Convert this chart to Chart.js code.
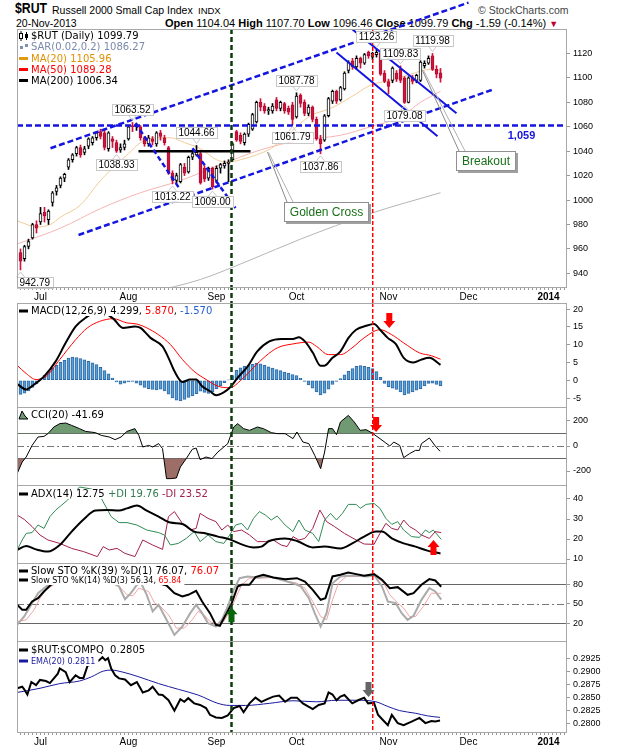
<!DOCTYPE html>
<html>
<head>
<meta charset="utf-8">
<script src="https://cdn.jsdelivr.net/npm/chart.js@4.4.0/dist/chart.umd.min.js"></script>
<style>
    body { margin: 0; width: 620px; height: 750px; background: #fff; position: relative; overflow: hidden; font-family: "Liberation Sans", Arial, sans-serif; }
    .hd { position: absolute; white-space: nowrap; color: #000; line-height: 12px; }
    canvas { position: absolute; left: 0; }
</style>
</head>
<body>
<div class="hd" style="left:15px;top:2px;font-size:15px;font-weight:bold;transform:scaleX(.82);transform-origin:0 0;">$RUT</div>
<div class="hd" style="left:52px;top:4px;font-size:10.5px;">Russell 2000 Small Cap Index</div>
<div class="hd" style="left:198px;top:5px;font-size:9.5px;">INDX</div>
<div class="hd" style="left:478px;top:4px;font-size:10.5px;color:#444;">&copy; StockCharts.com</div>
<div class="hd" style="left:16px;top:17px;font-size:10.5px;">20-Nov-2013</div>
<div class="hd" style="left:165px;top:17px;font-size:11px;"><b>Open</b> 1104.04 <b>High</b> 1107.70 <b>Low</b> 1096.46 <b>Close</b> 1099.79 <b>Chg</b> -1.59 (-0.14%) <span style="color:#c00030;font-size:9px;">&#9660;</span></div>

<canvas id="cMain" width="620" height="303" style="top:0px"></canvas>
<canvas id="cMacd" width="620" height="105" style="top:303px"></canvas>
<canvas id="cCci" width="620" height="78" style="top:408px"></canvas>
<canvas id="cAdx" width="620" height="78" style="top:486px"></canvas>
<canvas id="cSto" width="620" height="78" style="top:564px"></canvas>
<canvas id="cRatio" width="620" height="108" style="top:642px"></canvas>

<script>
// ---- axis / calendar (trading-day index, 0 = 24-Jun-2013) ----
const xMin = -0.875, xMax = 136.625;
const monthDays = [5, 27, 49, 69, 92, 112, 132];
const monthNames = ['Jul', 'Aug', 'Sep', 'Oct', 'Nov', 'Dec', '2014'];
const greenDay = 52.75;
const redDay = 88;

// ---- $RUT daily candles ----
const opens = [957, 952, 962, 969, 980, 982, 990, 984, 998, 1007,
    1012, 1018, 1027, 1033, 1038, 1043, 1039, 1044, 1047, 1051,
    1056, 1055, 1042, 1050, 1047, 1041, 1043, 1050, 1061, 1060,
    1060, 1051, 1046, 1050, 1046, 1055, 1051, 1043, 1022, 1016,
    1015, 1027, 1023, 1035, 1037, 1038, 1026, 1018, 1026, 1016,
    1026, 1028, 1030, 1033, 1056, 1053, 1047, 1054, 1058, 1064,
    1080, 1077, 1073, 1073, 1082, 1075, 1079, 1075, 1078, 1068,
    1086, 1080, 1071, 1076, 1066, 1050, 1049, 1069, 1081, 1089,
    1082, 1091, 1106, 1114, 1109, 1116, 1112, 1121, 1117, 1119,
    1120, 1104, 1097, 1098, 1104, 1107, 1100, 1080, 1100, 1098,
    1098, 1110, 1112, 1118, 1107, 1104.04];
const highs = [960, 963, 968, 981, 983, 994, 994, 992, 1007, 1012,
    1019, 1022, 1034, 1038, 1044, 1045, 1044, 1051, 1052, 1056,
    1058, 1057, 1056, 1052, 1049, 1046, 1049, 1061, 1063.52, 1063,
    1061, 1052, 1053, 1052, 1056, 1057, 1053, 1044, 1024, 1022,
    1030, 1030, 1036, 1039, 1044.66, 1039, 1028, 1027, 1027, 1028,
    1030, 1032, 1033, 1047, 1057, 1055, 1055, 1063, 1071, 1081,
    1083, 1079, 1076, 1079, 1084, 1081, 1080, 1077, 1080, 1087.78,
    1087, 1082, 1078, 1077, 1068, 1053, 1070, 1084, 1090, 1090,
    1093, 1105, 1114, 1116, 1118, 1117, 1120, 1122, 1121, 1123.26,
    1122, 1106, 1099, 1109, 1106, 1109.83, 1101, 1101, 1102, 1103,
    1114, 1114, 1118, 1119.98, 1110, 1107.70];
const lows = [942.79, 950, 960, 968, 973, 980, 982, 980, 995, 1004,
    1010, 1015, 1025, 1031, 1036, 1035, 1037, 1042, 1045, 1049,
    1050, 1041, 1040, 1043, 1038.93, 1039, 1041, 1049, 1056, 1057,
    1049, 1044, 1044, 1045, 1044, 1049, 1045, 1021, 1013.22, 1014,
    1014, 1020, 1022, 1033, 1036, 1013, 1015, 1016, 1009.00, 1014,
    1022, 1026, 1015, 1032, 1048, 1046, 1045, 1052, 1057, 1063,
    1073, 1071, 1070, 1071, 1073, 1073, 1071, 1070, 1061.79, 1067,
    1076, 1069, 1069, 1064, 1049, 1037.86, 1048, 1068, 1079, 1079,
    1081, 1090, 1104, 1107, 1107, 1108, 1111, 1116, 1115, 1117,
    1102, 1096, 1087, 1096, 1097, 1096, 1079.08, 1079.5, 1095, 1096,
    1097, 1108, 1111, 1106, 1100, 1096.46];
const closes = [950, 962, 966, 980, 977, 989, 987, 991, 1006, 1010,
    1018, 1021, 1033, 1037, 1043, 1037, 1042, 1050, 1051, 1055,
    1052, 1043, 1055, 1048, 1040, 1043, 1046, 1060, 1060, 1062,
    1051, 1046, 1051, 1048, 1055, 1052, 1047, 1022, 1016, 1020,
    1029, 1022, 1035, 1038, 1039, 1014, 1017, 1026, 1011, 1026,
    1029, 1030, 1031, 1046, 1049, 1048, 1054, 1062, 1070, 1080,
    1076, 1073, 1074, 1077, 1075, 1080, 1073, 1072, 1066, 1085,
    1079, 1071, 1076, 1066, 1050, 1046, 1069, 1083, 1089, 1081,
    1092, 1104, 1113, 1109, 1116, 1112, 1119, 1118, 1120, 1121,
    1103, 1097, 1093, 1108, 1099, 1098, 1080, 1100, 1097, 1102,
    1113, 1112, 1116, 1107, 1103, 1099.79];

// moving averages [day, value]
const ma20 = [[-0.9, 983], [0, 982], [4, 978], [7.5, 980], [10, 986], [15, 996], [20, 1016], [24, 1029], [27, 1038],
    [30, 1047], [34, 1051], [37.5, 1051], [41, 1047], [45, 1042], [49, 1033], [52, 1031], [55, 1033], [59, 1037],
    [62.5, 1042], [66, 1051], [69, 1060], [72.5, 1069], [77.5, 1075], [82.5, 1084], [87.5, 1094], [92.5, 1098],
    [97.5, 1103], [102.5, 1107], [105, 1106]];
const ma50 = [[-0.9, 964], [0, 965], [10, 977], [20, 993], [30, 1006], [40, 1016], [50, 1029], [60, 1041], [70, 1049],
    [80, 1053], [87.5, 1060], [95, 1068], [100, 1080], [105, 1089]];
const ma200 = [[32, 924], [45, 935], [57.5, 951], [70, 968], [87.5, 989], [105, 1006]];

// drawn trend lines [day, price]
const channelTop = [[7.5, 1042.4], [112, 1161.6]];
const channelBottom = [[14.5, 971.4], [118.25, 1090.6]];
const supportLine = [[xMin, 1061], [xMax, 1061]];
const augFall1 = [[28.75, 1062.9], [39.5, 1010.6]];
const augFall2 = [[43, 1042.4], [53.75, 993.5]];
const neckline = [[29.5, 1040], [57.5, 1040]];
const octTop = [[83, 1139.6], [109, 1071]];
const octBottom = [[79, 1120.8], [104.25, 1052.2]];

// price notes [day, price]
const priceNotes = [[0, 942.79], [24, 1038.93], [28, 1063.52], [38, 1013.22], [44, 1044.66], [48, 1009.00],
    [68, 1061.79], [69, 1087.78], [75, 1037.86], [89, 1123.26], [95, 1109.83], [96, 1079.08], [103, 1119.98]];
const supportNote = [125.25, 1052.7, '1,059'];
const callouts = [
    { text: 'Golden Cross', at: [76.4, 989.8], tip: [61.75, 1039.2] },
    { text: 'Breakout', at: [116.25, 1031.8], tip: [100.5, 1106.1] }
];

// ---- MACD(12,26,9) ----
const macdLine = [[-0.85, -1.0], [1.4, -2.6], [3.4, -1.2], [5.9, 1.1], [8.8, 5.3], [11.3, 10.5], [13.8, 15.1],
    [16.2, 17.5], [19.7, 19.5], [23.2, 17.3], [25.6, 14.7], [28.6, 15.1], [30, 14.7], [32.5, 11.9], [35.5, 9.5],
    [37, 6.3], [38.5, 2.5], [40.5, -0.5], [42.4, 0.2], [43.9, 0.2], [45.4, -1.7], [47.4, -3.1], [48.9, -4.2],
    [50.8, -3.4], [52.3, -2.1], [54.3, 0.7], [56.8, 3.9], [59.2, 8.1], [62.2, 10.9], [65.2, 11.6], [68.1, 11.6],
    [69.6, 12.1], [71.1, 10.9], [73.1, 7.7], [75, 4.1], [76, 4.1], [78, 6.3], [80, 8.1], [82, 11.9], [83.9, 14.2],
    [86.4, 15.3], [88.4, 15.8], [89.9, 14.2], [91.8, 11.9], [93.8, 10.2], [95.8, 6.3], [98.3, 5.0], [100.2, 5.8],
    [102.2, 6.3], [105, 4.3]];
const macdSignal = [[-0.85, 4.2], [1.4, 1.9], [3.9, 0.2], [6.4, 1.1], [9.8, 5.8], [13.8, 11.4], [16.7, 14.7],
    [19.7, 16.5], [23.2, 17.3], [26.6, 16.1], [29.1, 15.8], [31.6, 14.7], [34.5, 12.8], [37.5, 10.0], [40.5, 5.8],
    [43.4, 2.5], [46.4, 0.2], [49.4, -1.7], [52.3, -2.1], [55.3, 0.2], [58.2, 3.5], [61.2, 6.7], [64.2, 9.1],
    [68.1, 10.2], [72.1, 10.7], [74, 9.5], [77, 7.2], [80, 7.2], [82.9, 9.1], [85.9, 11.9], [89.9, 14.2],
    [92.8, 12.8], [95.8, 10.5], [99.7, 7.7], [102.7, 6.9], [105, 5.9]];
const macdHist = [-4.0, -3.6, -3.0, -2.0, -1.0, 0.4, 1.4, 2.4, 3.4, 4.2,
    5.0, 5.6, 6.2, 6.5, 6.4, 6.1, 5.7, 5.3, 4.9, 4.4,
    3.6, 2.7, 1.8, 0.6, -0.5, -1.1, -0.8, -0.5, -0.3, -0.8,
    -1.4, -2.0, -2.4, -2.6, -2.7, -2.5, -3.0, -3.9, -5.0, -5.6,
    -5.8, -5.4, -4.8, -4.4, -3.8, -3.1, -3.4, -3.7, -3.2, -2.4,
    -1.5, -0.7, 0.1, 1.3, 2.8, 3.5, 3.9, 4.2, 4.5, 4.8,
    4.6, 4.2, 3.8, 3.4, 3.0, 2.7, 2.3, 2.0, 1.6, 1.3,
    0.6, -0.3, -1.3, -2.2, -3.3, -4.1, -3.6, -2.5, -1.2, -0.3,
    0.5, 1.5, 2.5, 3.3, 3.9, 4.1, 3.9, 3.6, 3.3, 2.4,
    0.8, -0.9, -1.8, -2.2, -2.6, -3.3, -4.1, -3.7, -3.3, -2.8,
    -2.4, -1.6, -0.9, -0.8, -1.2, -1.57];

// ---- CCI(20) ----
const cci = [[-0.85, -221], [0.43, -128], [1.42, -88], [2.9, 5], [4.39, 72], [5.87, 77], [6.86, 99], [8.34, 152],
    [9.82, 179], [11.3, 184], [12.79, 165], [14.76, 139], [16.25, 117], [18.72, 107], [20.2, 85], [22.17, 72],
    [23.66, 51], [25.14, 72], [26.62, 117], [28.6, 139], [29.58, 85], [30.57, -8], [32.05, 5], [33.04, -8],
    [34.53, 19], [35.51, -21], [36.5, -261], [37.49, -261], [38.97, -256], [39.96, -168], [41.44, -101],
    [42.92, -27], [43.91, -16], [44.9, -109], [46.38, -88], [47.87, -101], [49.35, -48], [50.83, -8], [51.82, 19],
    [53.3, 152], [54.29, 179], [55.77, 139], [57.25, 125], [59.23, 152], [60.71, 139], [62.69, 107], [64.17, 99],
    [66.15, 99], [68.12, 59], [69.11, 112], [70.59, 32], [72.08, 19], [73.56, -75], [75.04, -181], [76.03, -48],
    [77.02, 139], [78, 139], [79, 91], [79.98, 192], [81.96, 245], [83.44, 192], [84.92, 125], [86.4, 131],
    [87.89, 104], [89.86, 59], [91.34, 24], [92.33, 0], [93.32, 32], [94.8, 5], [95.79, -93], [97.27, -61],
    [98.75, -35], [99.74, -35], [100.24, 19], [102.21, 64], [103.7, 0], [104.88, -42]];
const cciLevels = [100, 0, -100];

// ---- ADX(14) ----
const adx = [[-0.85, 14.5], [1.42, 16.5], [3.89, 14.8], [6.86, 13.7], [9.82, 17], [12.79, 23.7], [15.75, 29.8],
    [18.72, 34.2], [21.68, 34.5], [24.64, 34.2], [26.62, 35.3], [29.09, 36.7], [31.56, 34.2], [34.53, 31.2],
    [37.49, 28.2], [40.45, 27.5], [43.42, 23.7], [46.38, 22.8], [49.35, 21.2], [52.31, 19.8], [55.28, 17.3],
    [58.24, 15.8], [60.22, 16.2], [62.19, 19], [66.15, 20.3], [69.11, 19], [73.06, 15.8], [76.03, 16.2],
    [79.98, 15.3], [82.94, 17.8], [85.91, 21.2], [88.87, 23.7], [90.36, 23.7], [92.83, 20.3], [95.79, 17.8],
    [98.75, 16.2], [101.72, 14.2], [105, 12.75]];
const plusDI = [[-0.85, 14.5], [0.43, 19.5], [1.42, 22.8], [2.9, 23.2], [4.39, 27], [5.87, 25.3], [7.35, 31.2],
    [8.83, 34.5], [10.32, 37], [11.8, 39.5], [14.76, 46], [17.73, 45], [20.2, 40.3], [22.67, 31.2], [24.64, 28.2],
    [26.62, 28.2], [29.09, 27], [31.56, 24.5], [34.53, 23.2], [36.01, 22], [37.49, 17], [39.47, 17.8], [41.44, 20.3],
    [43.42, 23.7], [44.9, 18.7], [46.88, 22], [48.85, 18.7], [50.83, 17.8], [52.31, 22], [53.79, 27], [55.28, 27.8],
    [56.76, 24.5], [58.24, 30.3], [59.72, 33.7], [61.21, 32], [62.69, 29.5], [64.17, 31.5], [66.15, 27],
    [68.12, 23.7], [69.6, 29.5], [71.09, 24.5], [73.06, 22.8], [74.55, 18.7], [76.03, 29.5], [77.51, 32.8],
    [79, 29.5], [80.47, 32.8], [81.96, 37.3], [83.93, 37.3], [84.92, 35.3], [86.4, 37.3], [88.38, 37.8],
    [89.86, 35.3], [91.34, 30.3], [92.83, 27.3], [94.31, 28.7], [95.79, 24.5], [97.77, 21.2], [99.74, 20.8],
    [101.23, 24.5], [102.21, 23.2], [103.2, 24.5], [105.18, 19.8]];
const minusDI = [[-0.85, 32], [0.93, 29.8], [2.9, 26.2], [4.88, 22], [6.86, 19.5], [9.82, 17.8], [12.79, 15.3],
    [15.75, 13.7], [19.21, 11.2], [20.69, 16.2], [22.17, 14.5], [24.15, 15.3], [26.13, 12.8], [28.6, 11.2],
    [30.57, 19.5], [33.04, 17], [35.51, 14.8], [36.99, 31.2], [38.48, 33.7], [40.45, 27.8], [42.43, 24.5],
    [43.91, 25.3], [44.9, 32.8], [46.88, 30.3], [48.85, 28.7], [50.34, 24.5], [51.82, 27], [53.3, 23.7],
    [55.28, 24.5], [57.25, 22], [59.23, 18.7], [61.21, 18.7], [63.18, 19.5], [65.16, 17], [66.64, 16.2],
    [68.12, 21.2], [69.6, 19.5], [71.09, 20.3], [73.06, 25.3], [74.84, 34.5], [76.52, 28.7], [78.5, 26.2],
    [80.97, 22.8], [83.93, 19.5], [85.91, 17.5], [88.38, 17.3], [89.86, 22.8], [91.34, 27.8], [92.83, 25.3],
    [94.31, 24.5], [95.79, 29.5], [97.27, 26.2], [98.75, 24.5], [100.24, 22], [102.21, 20.3], [103.7, 23.7],
    [105.18, 23.2]];

// ---- Slow Stochastics ----
const stoK39 = [[-0.85, 48.2], [0.43, 40.5], [1.42, 40.5], [2.9, 53.3], [4.39, 58.5], [5.87, 68.7], [7.35, 77.4],
    [8.8, 85], [11.8, 92], [16.7, 95], [22.7, 92], [27.6, 88], [32.5, 85], [36.5, 78], [38.48, 66.1], [40.45, 61],
    [41.94, 63.6], [43.91, 69.7], [45.4, 53.3], [47.37, 35.4], [48.85, 17.4], [49.84, 15.9], [51.32, 32.8],
    [52.81, 50.8], [54.29, 76.4], [55.28, 79], [57.25, 79], [58.74, 90.8], [60.71, 94.4], [63.18, 90.3],
    [66.15, 87.7], [69.11, 89.2], [71.09, 84.1], [73.06, 71.3], [75.04, 55.9], [76.23, 58.5], [78, 91.8],
    [79.98, 94.4], [81.96, 98], [83.93, 95.4], [85.91, 92.8], [88.38, 95.4], [90.36, 86.7], [92.33, 73.8],
    [94.31, 75.4], [96.78, 63.6], [98.26, 66.1], [100.24, 79], [102.21, 87.7], [103.7, 85.6], [105.18, 76.1]];
const stoK14 = [[-0.85, 17.4], [0.93, 30.2], [2.9, 50.8], [4.39, 66.1], [5.87, 73.8], [8.8, 88], [14.8, 92],
    [20.7, 90], [24.64, 76.4], [26.13, 56.9], [27.6, 66.1], [29.09, 79], [30.1, 82], [31.56, 63.6], [33.04, 38],
    [34.53, 48.2], [36.5, 25.1], [38.48, 2], [40.45, 14.8], [42.43, 35.4], [43.91, 48.2], [45.4, 35.4],
    [46.88, 20], [48.85, 14.8], [50.34, 25.1], [51.82, 45.6], [53.3, 71.3], [54.78, 89.2], [56.76, 91.8],
    [59.23, 90.3], [62.19, 91.8], [65.16, 86.7], [68.12, 81.5], [70.1, 76.4], [72.08, 58.5], [73.56, 35.4],
    [75.04, 14.8], [76.52, 35.4], [78, 81.5], [79.98, 91.8], [81.96, 92.8], [83.93, 92.8], [86.9, 91.8],
    [88.38, 94.4], [90.36, 76.4], [91.84, 53.3], [93.81, 50.8], [95.3, 35.4], [96.78, 25.1], [98.26, 31.3],
    [100.24, 55.9], [102.21, 73.8], [103.7, 68.7], [105.18, 56.3]];
const stoD3 = [[-0.85, 22.5], [1.42, 25.1], [3.4, 40.5], [4.88, 58.5], [6.36, 71.3], [9.8, 85], [16.7, 92],
    [22.7, 88], [25.14, 73.8], [26.62, 63.6], [28.1, 62], [29.58, 73.8], [32.05, 68.7], [33.54, 50.8],
    [35.02, 45.6], [37, 32.8], [38.97, 12.3], [40.95, 12.3], [42.92, 25.1], [44.41, 38], [45.89, 32.8],
    [47.37, 22.5], [49.35, 17.4], [50.83, 22.5], [52.31, 38], [53.79, 58.5], [55.28, 79], [57.25, 89.2],
    [60.22, 89.2], [63.18, 90.3], [66.15, 85.1], [69.11, 81.5], [71.09, 73.8], [73.06, 53.3], [75.04, 30.2],
    [76.52, 25.1], [78, 55.9], [79.49, 81.5], [81.46, 91.8], [83.93, 91.8], [86.9, 91.8], [88.87, 91.8],
    [90.85, 81.5], [92.33, 63.6], [94.31, 50.8], [95.79, 43.1], [97.27, 30.2], [98.75, 30.2], [100.73, 45.6],
    [102.71, 66.1], [105.18, 65.8]];
const stoLevels = [80, 50, 20];

// ---- $RUT:$COMPQ ratio ----
const ratio = [[-0.85, 0.2867], [0.43, 0.2870], [0.93, 0.2865], [1.72, 0.2855], [2.71, 0.2879], [3.89, 0.2873],
    [4.88, 0.2883], [6.36, 0.2881], [7.35, 0.2877], [9.33, 0.2895], [9.82, 0.2905], [11.3, 0.2898],
    [12.29, 0.2879], [13.77, 0.2892], [14.76, 0.2887], [15.75, 0.2887], [16.74, 0.2910], [18.2, 0.2915],
    [19.7, 0.2921], [20.49, 0.2927], [21.19, 0.2921], [21.88, 0.2925], [22.67, 0.2905], [23.66, 0.2892],
    [24.64, 0.2886], [26.13, 0.2884], [27.61, 0.2873], [29.09, 0.2879], [30.57, 0.2859], [32.05, 0.2863],
    [33.04, 0.2870], [34.53, 0.2855], [35.51, 0.2854], [37, 0.2844], [38.48, 0.2824], [39.96, 0.2846],
    [40.95, 0.2841], [41.94, 0.2848], [43.42, 0.2838], [44.9, 0.2835], [46.38, 0.2829], [47.37, 0.2816],
    [48.85, 0.2811], [50.34, 0.2810], [51.82, 0.2815], [53.3, 0.2829], [54.78, 0.2833], [55.77, 0.2821],
    [57.25, 0.2838], [58.74, 0.2849], [60.22, 0.2841], [61.7, 0.2846], [63.18, 0.2851], [64.66, 0.2853],
    [66.15, 0.2841], [67.63, 0.2849], [69.11, 0.2849], [70.59, 0.2838], [73.06, 0.2827], [74.55, 0.2835],
    [76.03, 0.2838], [77.02, 0.2859], [78, 0.2855], [79, 0.2844], [79.98, 0.2851], [80.97, 0.2854],
    [82.94, 0.2838], [84.43, 0.2844], [85.91, 0.2849], [86.9, 0.2838], [88.38, 0.2839], [89.37, 0.2816],
    [90.36, 0.2808], [91.84, 0.2796], [92.83, 0.2816], [94.31, 0.2800], [95.79, 0.2796], [97.77, 0.2803],
    [99.74, 0.2810], [101.23, 0.2800], [102.71, 0.2804], [103.7, 0.2803], [104.88, 0.2805]];
const ratioEma = [[-0.85, 0.2859], [4.88, 0.2867], [9.82, 0.2876], [14.76, 0.2881], [17.73, 0.2889],
    [20.69, 0.2900], [22.67, 0.2902], [25.63, 0.2898], [29.58, 0.2889], [34.53, 0.2876], [39.47, 0.2865],
    [44.41, 0.2854], [49.35, 0.2838], [52.31, 0.2834], [56.26, 0.2834], [62.19, 0.2838], [68.12, 0.2843],
    [74.05, 0.2841], [79, 0.2844], [83.93, 0.2844], [88.87, 0.2841], [91.84, 0.2832], [94.8, 0.2824],
    [98.75, 0.2819], [101.72, 0.2814], [104.88, 0.2811]];

// ---- colours ----
const RED = '#d2143c';
const BLUE = '#1515e0';
const LEG_FONT = '10px "DejaVu Sans"';
const SMALL_FONT = '8px "DejaVu Sans"';
const TICK_FAMILY = '"Liberation Sans", Arial, sans-serif';

const pts = arr => arr.map(p => ({ x: p[0], y: p[1] }));
const xp = (c, v) => c.scales.x.getPixelForValue(v);
const yp = (c, v) => c.scales.y.getPixelForValue(v);

function drawArrow(ctx, x, y, dir, color) {
    const d = dir === 'down' ? -1 : 1;
    ctx.fillStyle = color;
    ctx.beginPath();
    ctx.moveTo(x, y);
    ctx.lineTo(x + 6, y + d * 7);
    ctx.lineTo(x + 3, y + d * 7);
    ctx.lineTo(x + 3, y + d * 15);
    ctx.lineTo(x - 3, y + d * 15);
    ctx.lineTo(x - 3, y + d * 7);
    ctx.lineTo(x - 6, y + d * 7);
    ctx.closePath();
    ctx.fill();
}

function drawIcon(ctx, icon, x, y) {
    ctx.save();
    if (icon.type === 'bar') {
        ctx.fillStyle = icon.color;
        ctx.fillRect(x, y - 1.5, 9, 3);
    } else if (icon.type === 'candle') {
        ctx.strokeStyle = '#000';
        ctx.lineWidth = 1;
        ctx.strokeRect(x + 0.5, y - 2.5, 3, 5);
        ctx.beginPath();
        ctx.moveTo(x + 2, y - 5); ctx.lineTo(x + 2, y - 2.5);
        ctx.moveTo(x + 2, y + 2.5); ctx.lineTo(x + 2, y + 5);
        ctx.moveTo(x + 7.5, y - 4); ctx.lineTo(x + 7.5, y + 4);
        ctx.stroke();
        ctx.fillStyle = '#000';
        ctx.fillRect(x + 6, y - 2, 3, 4);
    } else if (icon.type === 'sar') {
        ctx.fillStyle = '#8090b0';
        ctx.fillRect(x + 1, y - 1, 3, 3);
        ctx.fillRect(x + 6, y - 3, 3, 3);
    } else if (icon.type === 'mount') {
        ctx.fillStyle = '#6f9a72';
        ctx.strokeStyle = '#000';
        ctx.beginPath();
        ctx.moveTo(x, y + 4); ctx.lineTo(x + 3, y - 4); ctx.lineTo(x + 6, y + 1); ctx.lineTo(x + 9, y + 4);
        ctx.closePath();
        ctx.fill();
        ctx.stroke();
    }
    ctx.restore();
}

// panel frame, levels, marker lines, notes, arrows and legend
const decoPlugin = {
    id: 'deco',
    beforeDatasetsDraw(c, args, o) {
        const ctx = c.ctx, a = c.chartArea;
        ctx.save();
        (o.levels || []).forEach(v => {
            const y = Math.round(yp(c, v)) + 0.5;
            ctx.strokeStyle = v === o.midLevel ? '#777' : '#666';
            ctx.lineWidth = 1;
            ctx.setLineDash(v === o.midLevel ? [7, 3, 2, 3] : []);
            ctx.beginPath();
            ctx.moveTo(a.left, y);
            ctx.lineTo(a.right, y);
            ctx.stroke();
        });
        ctx.restore();
    },
    afterDatasetsDraw(c, args, o) {
        const ctx = c.ctx, a = c.chartArea;
        ctx.save();
        const top = o.vFromCanvas ? 0 : a.top;
        const bottom = o.vToCanvas ? c.height : a.bottom;
        // signal day markers
        const gx = xp(c, greenDay);
        ctx.strokeStyle = '#0b3d0b';
        ctx.lineWidth = 2.5;
        ctx.setLineDash([5, 3]);
        ctx.beginPath(); ctx.moveTo(gx, top); ctx.lineTo(gx, bottom); ctx.stroke();
        ctx.setLineDash([]);
        const rx = Math.floor(xp(c, redDay) / 2) * 2;
        for (let y = top; y < bottom; y += 6) {
            const h = Math.min(4, bottom - y);
            ctx.fillStyle = '#ff0000';
            ctx.fillRect(rx, y, 1, h);
            ctx.fillStyle = 'rgba(255,0,0,0.45)';
            ctx.fillRect(rx + 1, y, 1, h);
        }

        // price notes
        if (o.notes) {
            ctx.font = '10px "Liberation Sans"';
            ctx.textAlign = 'center';
            ctx.textBaseline = 'middle';
            o.notes.forEach(([d, v]) => {
                const below = Math.abs(lows[d] - v) < 0.001;
                const text = v.toFixed(2);
                const w = ctx.measureText(text).width + 5, h = 11;
                const px = xp(c, d), py = yp(c, v);
                const cx = Math.max(a.left + w / 2, Math.min(a.right - w / 2, px));
                const by = below ? py + 7 : py - 7 - h;
                ctx.strokeStyle = '#c8c8c8';
                ctx.lineWidth = 1;
                ctx.beginPath();
                const ey = below ? by : by + h;
                ctx.moveTo(px - 4, ey); ctx.lineTo(px, py + (below ? 2 : -2)); ctx.lineTo(px + 4, ey);
                ctx.stroke();
                ctx.fillStyle = '#fff';
                ctx.fillRect(cx - w / 2, by, w, h);
                ctx.strokeRect(Math.round(cx - w / 2) + 0.5, Math.round(by) + 0.5, Math.round(w), h);
                ctx.fillStyle = '#000';
                ctx.fillText(text, cx, by + h / 2 + 0.5);
            });
        }
        if (o.callouts) {
            ctx.font = '12px "Liberation Sans"';
            ctx.textAlign = 'center';
            ctx.textBaseline = 'middle';
            o.callouts.forEach(co => {
                const w = Math.round(ctx.measureText(co.text).width + 12), h = 20;
                const left = Math.round(xp(c, co.at[0]) - w / 2), top2 = Math.round(yp(c, co.at[1]) - h / 2);
                const tx = xp(c, co.tip[0]), ty = yp(c, co.tip[1]);
                ctx.lineWidth = 1;
                ctx.strokeStyle = '#8a8a8a';
                ctx.beginPath(); ctx.moveTo(tx, ty); ctx.lineTo(left + 3, top2); ctx.stroke();
                ctx.strokeStyle = '#b0b0b0';
                ctx.beginPath(); ctx.moveTo(tx + 1, ty); ctx.lineTo(left + 9, top2); ctx.stroke();
                ctx.fillStyle = '#a0a0a0';
                ctx.fillRect(left + 2, top2 + 2, w, h);
                ctx.fillStyle = '#fff';
                ctx.fillRect(left, top2, w, h);
                ctx.strokeStyle = '#909090';
                ctx.strokeRect(left + 0.5, top2 + 0.5, w - 1, h - 1);
                ctx.fillStyle = '#187018';
                ctx.fillText(co.text, left + w / 2, top2 + h / 2 + 1);
            });
        }
        if (o.levelNote) {
            ctx.font = 'bold 11px "Liberation Sans"';
            ctx.textAlign = 'center';
            ctx.textBaseline = 'middle';
            ctx.fillStyle = BLUE;
            ctx.fillText(o.levelNote[2], xp(c, o.levelNote[0]), yp(c, o.levelNote[1]));
        }
        (o.arrows || []).forEach(ar => drawArrow(ctx, xp(c, ar.at[0]), yp(c, ar.at[1]), ar.dir, ar.color));
        ctx.restore();
    },
    afterDraw(c, args, o) {
        const ctx = c.ctx, a = c.chartArea;
        ctx.save();
        ctx.strokeStyle = '#a8a8a8';
        ctx.lineWidth = 1;
        ctx.beginPath();
        if (o.topLine) { ctx.moveTo(a.left, a.top + 0.5); ctx.lineTo(a.right, a.top + 0.5); }
        ctx.moveTo(a.left + 0.5, a.top); ctx.lineTo(a.left + 0.5, a.bottom);
        ctx.moveTo(a.right - 0.5, a.top); ctx.lineTo(a.right - 0.5, a.bottom);
        ctx.moveTo(a.left, a.bottom - 0.5); ctx.lineTo(a.right, a.bottom - 0.5);
        ctx.stroke();
        // legend rows
        ctx.textBaseline = 'middle';
        ctx.textAlign = 'left';
        (o.legend || []).forEach(row => {
            const y = a.top + row.dy;
            ctx.font = row.font || LEG_FONT;
            let w = 0;
            row.parts.forEach(p => { w += ctx.measureText(p[0]).width; });
            ctx.fillStyle = '#fff';
            ctx.fillRect(a.left + 1, y - 5, 14 + w + 2, 10);
            drawIcon(ctx, row.icon, a.left + 2, y);
            let x = a.left + 14;
            row.parts.forEach(p => {
                ctx.fillStyle = p[1];
                ctx.fillText(p[0], x, y + 0.5);
                x += ctx.measureText(p[0]).width;
            });
        });
        ctx.restore();
    }
};

function xAxis(labelHeight) {
    return {
        type: 'linear', min: xMin, max: xMax, offset: false, display: labelHeight > 0,
        grid: { drawOnChartArea: false, tickLength: 2, color: '#999', offset: false },
        border: { display: false },
        ticks: {
            autoSkip: false, maxRotation: 0, padding: 1, color: '#000',
            font: ctx => ({ family: TICK_FAMILY, size: 10, weight: (ctx.tick && ctx.tick.label === '2014') ? 'bold' : 'normal' }),
            callback: v => { const k = monthDays.indexOf(v); return k >= 0 ? monthNames[k] : ''; }
        },
        afterBuildTicks: ax => {
            const t = [];
            for (let d = 0; d <= 136; d++) t.push({ value: d });
            ax.ticks = t;
        },
        afterFit: ax => { ax.height = labelHeight; ax.paddingLeft = 0; ax.paddingRight = 0; }
    };
}

function yAxis(min, max, tickValues, fmt) {
    return {
        position: 'right', min: min, max: max,
        grid: { drawOnChartArea: false, tickLength: 3, color: '#999' },
        border: { display: false },
        ticks: { color: '#000', padding: 3, font: { family: TICK_FAMILY, size: 9 }, callback: fmt || (v => v) },
        afterBuildTicks: ax => { ax.ticks = tickValues.map(v => ({ value: v })); },
        afterFit: ax => { ax.width = 53; ax.paddingTop = 0; ax.paddingBottom = 0; }
    };
}

function makeChart(id, type, datasets, y, labelHeight, padTop, deco) {
    return new Chart(document.getElementById(id), {
        type: type,
        data: { datasets: datasets },
        options: {
            responsive: false,
            animation: false,
            events: [],
            layout: { padding: { left: 17, right: 0, top: padTop, bottom: 0 } },
            plugins: { legend: { display: false }, tooltip: { enabled: false }, deco: deco },
            scales: { x: xAxis(labelHeight), y: y }
        },
        plugins: [decoPlugin]
    });
}

const line = (data, color, width, extra) => Object.assign({
    type: 'line', data: pts(data), borderColor: color, borderWidth: width,
    pointRadius: 0, fill: false, tension: 0
}, extra || {});

// ---- main price panel ----
const upDay = closes.map((c, i) => c >= opens[i]);
const candleBodies = {
    type: 'bar', order: 2, grouped: false, barThickness: 3, minBarLength: 1,
    data: opens.map((o, i) => ({ x: i, y: [o, closes[i]] })),
    backgroundColor: upDay.map(u => u ? '#fff' : RED),
    borderColor: upDay.map(u => u ? '#000' : '#b00c30'),
    borderWidth: 1, borderSkipped: false
};
const candleWicks = {
    type: 'bar', order: 3, grouped: false, barThickness: 1,
    data: lows.map((l, i) => ({ x: i, y: [l, highs[i]] })),
    backgroundColor: upDay.map(u => u ? '#000' : RED)
};
const trend = (data, color, width, dash, clip) => line(data, color, width, { order: 0, borderDash: dash, clip: clip });

makeChart('cMain', 'bar', [
    candleBodies, candleWicks,
    line(ma20, '#f0cb95', 1, { order: 5, cubicInterpolationMode: 'monotone' }),
    line(ma50, '#f6b4b4', 1, { order: 5, cubicInterpolationMode: 'monotone' }),
    line(ma200, '#b5b5b5', 1, { order: 5, cubicInterpolationMode: 'monotone' }),
    trend(channelTop, BLUE, 2.5, [6, 3], false),
    trend(channelBottom, BLUE, 2.5, [6, 3]),
    trend(supportLine, BLUE, 2.5, [6, 3]),
    trend(augFall1, BLUE, 2.5, [5, 3]),
    trend(augFall2, BLUE, 2.5, [5, 3]),
    trend(neckline, '#000', 2.5, []),
    trend(octTop, BLUE, 2, []),
    trend(octBottom, BLUE, 2, [])
], yAxis(928, 1140, [940, 960, 980, 1000, 1020, 1040, 1060, 1080, 1100, 1120]), 15, 29, {
    topLine: true, vToCanvas: true,
    notes: priceNotes, callouts: callouts, levelNote: supportNote,
    legend: [
        { dy: 7, icon: { type: 'candle' }, parts: [['$RUT (Daily) 1099.79', '#000']] },
        { dy: 18, icon: { type: 'sar' }, parts: [['SAR(0.02,0.2) 1086.27', '#7a8aa8']] },
        { dy: 29.5, icon: { type: 'bar', color: '#e09a10' }, parts: [['MA(20) 1105.96', '#e09000']] },
        { dy: 40.5, icon: { type: 'bar', color: '#ff0000' }, parts: [['MA(50) 1089.28', '#ff0000']] },
        { dy: 51.5, icon: { type: 'bar', color: '#000' }, parts: [['MA(200) 1006.34', '#000']] }
    ]
});

// ---- MACD ----
makeChart('cMacd', 'bar', [
    { type: 'bar', order: 3, grouped: false, barThickness: 3, data: macdHist.map((v, i) => ({ x: i, y: v })),
      backgroundColor: '#5a9fd6', borderColor: '#2f6aa6', borderWidth: 1, borderSkipped: false },
    line(macdSignal, '#ff0000', 1, { order: 2, cubicInterpolationMode: 'monotone' }),
    line(macdLine, '#000', 2, { order: 1, cubicInterpolationMode: 'monotone' })
], yAxis(-7.8, 21.7, [-5, 0, 5, 10, 15, 20]), 0, 0, {
    topLine: true, vFromCanvas: true, vToCanvas: true,
    arrows: [{ at: [92.2, 14.7], dir: 'down', color: '#ff0000' }],
    legend: [{ dy: 8, icon: { type: 'bar', color: '#000' },
        parts: [['MACD(12,26,9) 4.299, ', '#000'], ['5.870', '#ff0000'], [', ', '#000'], ['-1.570', '#1f5fd0']] }]
});

// ---- CCI ----
makeChart('cCci', 'line', [
    line(cci, '#000', 1, { order: 1, fill: { target: { value: 100 }, above: '#6f9a72', below: 'rgba(0,0,0,0)' } }),
    line(cci, 'rgba(0,0,0,0)', 0, { order: 2, fill: { target: { value: -100 }, above: 'rgba(0,0,0,0)', below: '#9c6e67' } })
], yAxis(-320, 304, [-200, 0, 200]), 0, 0, {
    vFromCanvas: true, vToCanvas: true, levels: cciLevels, midLevel: 0,
    arrows: [{ at: [88.9, 112], dir: 'down', color: '#ff0000' }],
    legend: [{ dy: 7, icon: { type: 'mount' }, parts: [['CCI(20) -41.69', '#000']] }]
});

// ---- ADX ----
makeChart('cAdx', 'line', [
    line(plusDI, '#2f8a55', 1, { order: 2 }),
    line(minusDI, '#a3204c', 1, { order: 3 }),
    line(adx, '#000', 2, { order: 1, cubicInterpolationMode: 'monotone' })
], yAxis(7.5, 46.5, [10, 20, 30, 40]), 0, 0, {
    vFromCanvas: true, vToCanvas: true,
    arrows: [{ at: [103.25, 19.5], dir: 'up', color: '#ff0000' }],
    legend: [{ dy: 8, icon: { type: 'bar', color: '#000' },
        parts: [['ADX(14) 12.75 ', '#000'], ['+DI 19.76 ', '#2f7a4f'], ['-DI 23.52', '#a3204c']] }]
});

// ---- Slow Stochastics ----
makeChart('cSto', 'line', [
    line(stoD3, '#f4a4a4', 1, { order: 3 }),
    line(stoK14, '#ababab', 2, { order: 2 }),
    line(stoK39, '#000', 2, { order: 1 })
], yAxis(-9, 111, stoLevels), 0, 0, {
    vFromCanvas: true, vToCanvas: true, levels: stoLevels, midLevel: 50,
    arrows: [{ at: [52.75, 44.6], dir: 'up', color: '#0a640a' }],
    legend: [
        { dy: 7, icon: { type: 'bar', color: '#000' }, parts: [['Slow STO %K(39) %D(1) 76.07, ', '#000'], ['76.07', '#ff0000']] },
        { dy: 16, font: SMALL_FONT, icon: { type: 'bar', color: '#000' }, parts: [['Slow STO %K(14) %D(3) 56.34, ', '#000'], ['65.84', '#ff0000']] }
    ]
});

// ---- $RUT:$COMPQ ----
makeChart('cRatio', 'line', [
    line(ratioEma, '#1a1aa0', 1, { order: 2, cubicInterpolationMode: 'monotone' }),
    line(ratio, '#000', 2, { order: 1 })
], yAxis(0.2781, 0.2956, [0.2800, 0.2825, 0.2850, 0.2875, 0.2900, 0.2925], v => v.toFixed(4)), 17, 0, {
    vFromCanvas: true,
    arrows: [{ at: [87, 0.2850], dir: 'down', color: '#666' }],
    legend: [
        { dy: 8, icon: { type: 'bar', color: '#000' }, parts: [['$RUT:$COMPQ  0.2805', '#000']] },
        { dy: 19, font: SMALL_FONT, icon: { type: 'bar', color: '#1a1aa0' }, parts: [['EMA(20) 0.2811', '#1a1aa0']] }
    ]
});
</script>
</body>
</html>
